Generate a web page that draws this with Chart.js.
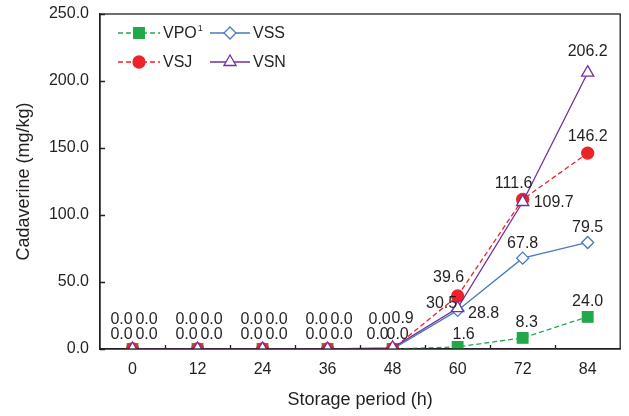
<!DOCTYPE html>
<html lang="en">
<head>
    <meta charset="UTF-8">
    <title>Cadaverine</title>
    <style>
        body { margin: 0; background: #fff; }
        canvas { display: block; }
    </style>
    <script src="https://cdn.jsdelivr.net/npm/chart.js"></script>
</head>
<body>
    <canvas id="cadaverineChart" width="629" height="416"></canvas>

    <script>
        // datos (mg/kg) por hora de almacenamiento
        const hours = ['0', '12', '24', '36', '48', '60', '72', '84'];
        const vpo = [0.0, 0.0, 0.0, 0.0, 0.0, 1.6, 8.3, 24.0];
        const vsj = [0.0, 0.0, 0.0, 0.0, 0.0, 39.6, 111.6, 146.2];
        const vss = [0.0, 0.0, 0.0, 0.0, 0.0, 28.8, 67.8, 79.5];
        const vsn = [0.0, 0.0, 0.0, 0.0, 0.9, 30.5, 109.7, 206.2];
        const yTicks = [0, 50, 100, 150, 200, 250];

        const ink = '#231f20';
        const font = 'Liberation Sans, Arial, sans-serif';

        // desplazamiento de cada etiqueta respecto a su punto: [dx, dy]
        const labelShift = {
            VPO: { base: [-11, -14], 4: [-15, -14], 5: [6, -12], 6: [4, -15], 7: [0, -15] },
            VSS: { base: [14, -14], 4: [5, -14], 5: [26, 3], 6: [0, -15], 7: [0, -15] },
            VSJ: { base: [-11, -29], 4: [-13, -29], 5: [-9, -18], 6: [-9, -16], 7: [0, -16] },
            VSN: { base: [14, -29], 4: [10, -29], 5: [-16, -5], 6: [31, 1], 7: [0, -21] }
        };

        const series = [
            { label: 'VPO', data: vpo, color: '#22a84a', dash: [5, 3], style: 'rect', radius: 7.5, fill: true, order: 3 },
            { label: 'VSS', data: vss, color: '#4a78c2', dash: [], style: 'rectRot', radius: 6, fill: false, order: 2 },
            { label: 'VSJ', data: vsj, color: '#ee2229', dash: [5, 3], style: 'circle', radius: 6, fill: true, order: 1 },
            { label: 'VSN', data: vsn, color: '#7030a0', dash: [], style: 'triangle', radius: 7, fill: false, order: 0 }
        ];

        function marker(ctx, style, x, y, r, color, fill) {
            ctx.save();
            ctx.setLineDash([]);
            ctx.lineWidth = 1.3;
            ctx.strokeStyle = color;
            ctx.fillStyle = fill ? color : '#fff';
            ctx.beginPath();
            if (style === 'rect') {
                const s = r * Math.SQRT1_2;
                ctx.rect(x - s, y - s, 2 * s, 2 * s);
            } else if (style === 'rectRot') {
                ctx.moveTo(x, y - r); ctx.lineTo(x + r, y); ctx.lineTo(x, y + r); ctx.lineTo(x - r, y); ctx.closePath();
            } else if (style === 'circle') {
                ctx.arc(x, y, r, 0, Math.PI * 2);
            } else {
                const a = Math.PI * 2 / 3;
                ctx.moveTo(x, y - r);
                ctx.lineTo(x + Math.sin(a) * r, y - Math.cos(a) * r);
                ctx.lineTo(x + Math.sin(2 * a) * r, y - Math.cos(2 * a) * r);
                ctx.closePath();
            }
            ctx.fill();
            ctx.stroke();
            ctx.restore();
        }

        // marco, marcas interiores de los ejes, etiquetas de valores y leyenda
        const extras = {
            id: 'extras',
            afterDatasetsDraw(chart) {
                const { ctx, chartArea: a, scales } = chart;
                const xs = scales.x, ys = scales.y;
                ctx.save();
                ctx.strokeStyle = ink;
                ctx.lineWidth = 1.3;
                ctx.strokeRect(a.left, a.top, a.right - a.left, a.bottom - a.top);
                ctx.beginPath();
                for (let i = 0; i < hours.length - 1; i++) {
                    const px = Math.round((xs.getPixelForTick(i) + xs.getPixelForTick(i + 1)) / 2) + 0.5;
                    ctx.moveTo(px, a.bottom);
                    ctx.lineTo(px, a.bottom - 4);
                }
                yTicks.forEach(v => {
                    const py = Math.round(ys.getPixelForValue(v)) + 0.5;
                    ctx.moveTo(a.left, py);
                    ctx.lineTo(a.left + 5, py);
                });
                ctx.stroke();

                ctx.fillStyle = ink;
                ctx.font = '16px ' + font;
                ctx.textAlign = 'center';
                ctx.textBaseline = 'middle';
                chart.data.datasets.forEach((ds, di) => {
                    const meta = chart.getDatasetMeta(di);
                    const shift = labelShift[ds.label];
                    meta.data.forEach((pt, i) => {
                        const d = shift[i] || shift.base;
                        ctx.fillText(ds.data[i].toFixed(1), pt.x + d[0], pt.y + d[1]);
                    });
                });

                // leyenda en dos columnas
                const cols = [118, 210];
                const rows = [33, 62];
                const place = [[0, 0], [1, 0], [0, 1], [1, 1]];
                series.forEach((s, k) => {
                    const x0 = cols[place[k][0]], y0 = rows[place[k][1]];
                    const len = place[k][0] === 0 ? 42 : 40;
                    ctx.save();
                    ctx.strokeStyle = s.color;
                    ctx.lineWidth = 1.3;
                    ctx.setLineDash(s.dash);
                    ctx.beginPath();
                    ctx.moveTo(x0, y0);
                    ctx.lineTo(x0 + len, y0);
                    ctx.stroke();
                    ctx.restore();
                    marker(ctx, s.style, x0 + len / 2, y0, s.radius, s.color, s.fill);
                    ctx.textAlign = 'left';
                    ctx.font = '16px ' + font;
                    ctx.fillText(s.label, x0 + len + 3, y0 + 1);
                    if (s.label === 'VPO') {
                        const w = ctx.measureText(s.label).width;
                        ctx.font = '9px ' + font;
                        ctx.fillText('1', x0 + len + 4 + w, y0 - 4);
                    }
                });
                ctx.restore();
            }
        };

        new Chart(document.getElementById('cadaverineChart'), {
            type: 'line',
            data: {
                labels: hours,
                datasets: series.map(s => ({
                    label: s.label,
                    data: s.data,
                    order: s.order,
                    borderColor: s.color,
                    borderWidth: 1.3,
                    borderDash: s.dash,
                    backgroundColor: s.fill ? s.color : '#fff',
                    pointBorderColor: s.color,
                    pointBackgroundColor: s.fill ? s.color : '#fff',
                    pointStyle: s.style,
                    pointRadius: s.radius,
                    pointBorderWidth: 1.3,
                    tension: 0,
                    fill: false
                }))
            },
            options: {
                responsive: false,
                animation: false,
                devicePixelRatio: 1,
                layout: { padding: { top: 14, right: 5, left: 0, bottom: 0 } },
                plugins: { legend: { display: false }, tooltip: { enabled: false } },
                scales: {
                    x: {
                        offset: true,
                        afterFit: s => { s.height = 67; s.paddingLeft = 0; s.paddingRight = 0; },
                        grid: { display: false, drawTicks: false },
                        border: { display: true, color: ink, width: 1.3 },
                        ticks: { color: ink, font: { family: font, size: 16 }, padding: 11, maxRotation: 0 },
                        title: {
                            display: true, text: 'Storage period (h)', color: ink,
                            font: { family: font, size: 18 }, padding: { top: 0, bottom: 5 }
                        }
                    },
                    y: {
                        min: 0,
                        max: 250,
                        afterFit: s => { s.width = 100; s.paddingTop = 0; s.paddingBottom = 0; },
                        afterBuildTicks: s => { s.ticks = yTicks.map(v => ({ value: v })); },
                        grid: { display: false, drawTicks: false },
                        border: { display: true, color: ink, width: 1.3 },
                        ticks: {
                            color: ink, font: { family: font, size: 16 }, padding: 11,
                            callback: v => v.toFixed(1)
                        },
                        title: {
                            display: true, text: 'Cadaverine (mg/kg)', color: ink,
                            font: { family: font, size: 18 }, padding: { top: 13, bottom: 0 }
                        }
                    }
                }
            },
            plugins: [extras]
        });
    </script>
</body>
</html>
